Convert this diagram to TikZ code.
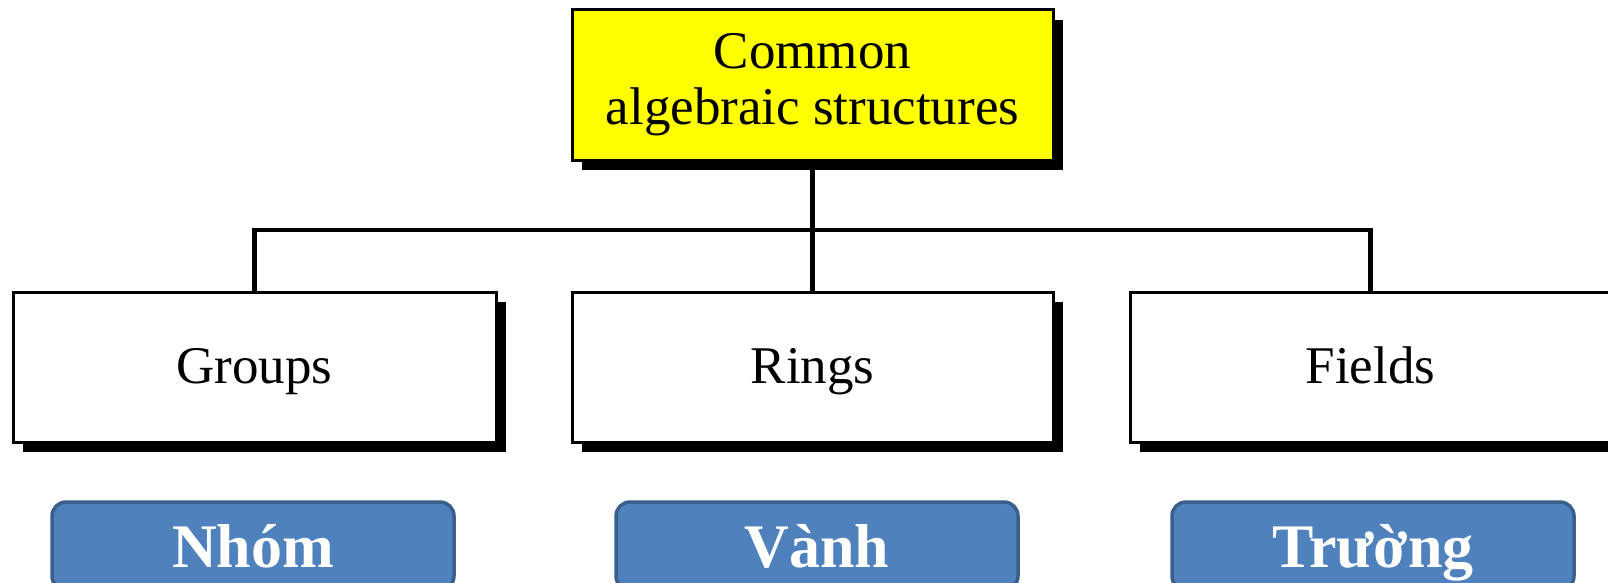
\documentclass[tikz,border=0pt]{standalone}
\usepackage{fontspec}
\setmainfont{Liberation Serif}
\usetikzlibrary{shadows}
\begin{document}
\begin{tikzpicture}[x=1pt,y=-1pt,
  box/.style={draw=black, line width=3pt, fill=white, rectangle,
    minimum width=481pt, minimum height=150pt, inner sep=0pt,
    font=\fontsize{53}{56}\selectfont, align=center,
    drop shadow={shadow xshift=10pt, shadow yshift=-10pt, opacity=1, fill=black}},
  leaf/.style={box, text height=40pt, text depth=8pt},
  topbox/.style={box, fill=yellow},
  tag/.style={draw=tagborder, line width=3.5pt, fill=tagfill, rounded corners=14pt,
    minimum width=402pt, minimum height=88pt, inner sep=0pt, text=white,
    text height=46pt, text depth=4pt,
    font=\fontsize{62}{62}\bfseries\selectfont},
  link/.style={line width=4.5pt}]
\definecolor{tagfill}{HTML}{4F81BD}
\definecolor{tagborder}{HTML}{3A5F8B}
\definecolor{yellow}{HTML}{FFFF00}
\useasboundingbox (0,0) rectangle (1608,583);
\clip (0,0) rectangle (1608,583);
\node[topbox] (top) at (812.5,85) {Common\\algebraic structures};
\node[leaf, minimum width=483pt] (g) at (254.5,367) {Groups};
\node[leaf] (r) at (812.5,367) {Rings};
\node[leaf] (f) at (1370.5,367) {Fields};
\coordinate (bus) at (812.5,230);
\draw[link] (top.south) -- (r.north);
\draw[link] (g.north) |- (bus) -| (f.north);
\node[tag] (n) at (253,546) {Nhóm};
\node[tag] (v) at (817,546) {Vành};
\node[tag] (t) at (1373,546) {Trường};
\end{tikzpicture}
\end{document}
